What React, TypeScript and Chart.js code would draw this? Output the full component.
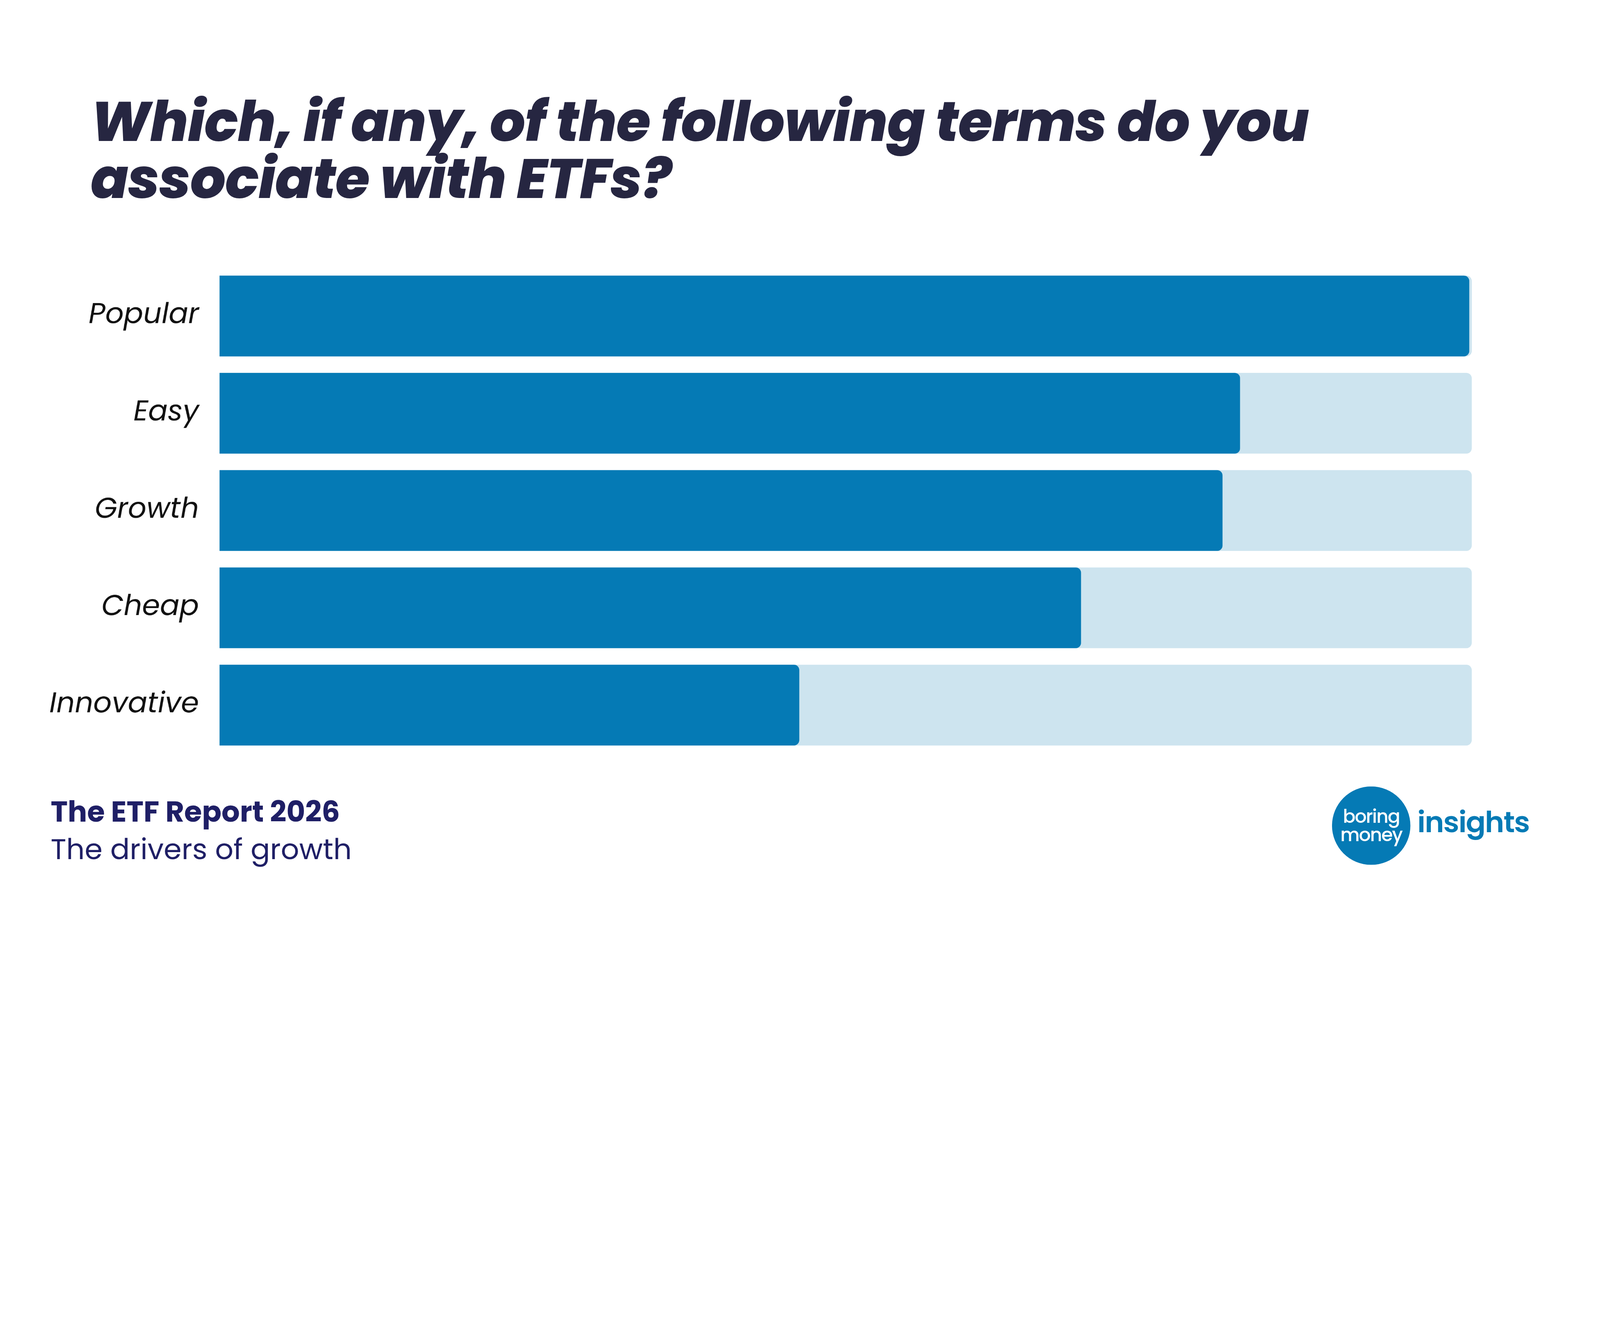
import React, { useEffect, useRef } from "react";
import { Chart, registerables } from "chart.js";
Chart.register(...registerables);

const categories = ["Popular", "Easy", "Growth", "Cheap", "Innovative"];
const values = [99.8, 81.5, 80.1, 68.8, 46.3];
const fullValues = [100, 100, 100, 100, 100];

const DARK = "#057ab5";
const LIGHT = "#cde4ef";
const FONT = "Poppins, Inter, sans-serif";

export default function App() {
  const ref = useRef<HTMLCanvasElement>(null);
  const scale = (typeof window !== "undefined" ? window.innerWidth : 6000) / 6000;
  useEffect(() => {
    const chart = new Chart(ref.current!, {
      type: "bar",
      data: {
        labels: categories,
        datasets: [
          { data: values, backgroundColor: DARK, borderRadius: { topRight: 20, bottomRight: 20 } as any, borderSkipped: false, barPercentage: 0.83, categoryPercentage: 1, grouped: false, order: 0 },
          { data: fullValues, backgroundColor: LIGHT, borderRadius: { topRight: 20, bottomRight: 20 } as any, borderSkipped: false, barPercentage: 0.83, categoryPercentage: 1, grouped: false, order: 1 },
        ],
      },
      options: {
        indexAxis: "y",
        animation: false,
        responsive: true,
        maintainAspectRatio: false,
        layout: { padding: { top: 52, bottom: 53, right: 25, left: 0 } },
        plugins: { legend: { display: false }, tooltip: { enabled: false } },
        scales: {
          x: { min: 0, max: 100, display: false },
          y: {
            grid: { display: false },
            border: { display: false },
            ticks: { padding: 69, color: "#111", font: { family: FONT, size: 108, style: "italic" } },
            afterFit: (s: any) => { s.width = 823; },
          },
        },
      },
    });
    return () => chart.destroy();
  }, []);

  return (
    <div style={{ position: "absolute", left: 0, top: 0, width: 6000, height: 3375, background: "#fff", overflow: "hidden", transform: `scale(${scale})`, transformOrigin: "0 0" }}>
      <div style={{ position: "absolute", left: 340, top: 350, fontFamily: FONT, fontWeight: 800, fontStyle: "italic", fontSize: 209, lineHeight: "213px", color: "#262641", letterSpacing: -2, whiteSpace: "nowrap" }}>
        Which, if any, of the following terms do you<br />associate with ETFs?
      </div>
      <div style={{ position: "absolute", left: 0, top: 869, width: 5544, height: 2092 }}>
        <canvas ref={ref} />
      </div>
      <div style={{ position: "absolute", left: 190, top: 2975, fontFamily: FONT, fontSize: 108, lineHeight: "140px", color: "#1f1f66" }}>
        <div style={{ fontWeight: 700 }}>The ETF Report 2026</div>
        <div>The drivers of growth</div>
      </div>
      <div style={{ position: "absolute", left: 4995, top: 2950, width: 294, height: 294, borderRadius: "50%", background: DARK, color: "#fff", fontFamily: FONT, fontWeight: 500, fontSize: 70, lineHeight: "70px", display: "flex", flexDirection: "column", alignItems: "center", justifyContent: "center", letterSpacing: -3 }}>
        <div>boring</div>
        <div>money</div>
      </div>
      <div style={{ position: "absolute", left: 5315, top: 3000, fontFamily: FONT, fontWeight: 600, fontSize: 110, color: DARK, letterSpacing: -3 }}>insights</div>
    </div>
  );
}
